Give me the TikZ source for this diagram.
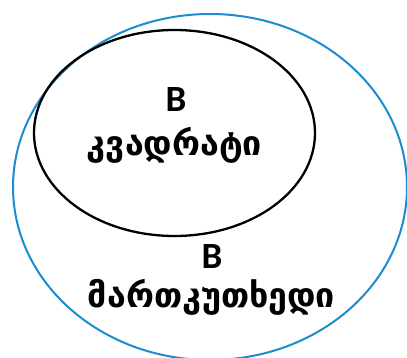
\documentclass[tikz,border=0pt]{standalone}
\usepackage{fontspec}
\setmainfont{Carlito}
\newfontfamily\geo{DejaVu Sans}
\usetikzlibrary{shapes.geometric}
\definecolor{outerblue}{RGB}{27,140,208}
\tikzset{
  setline/.style={shape=ellipse, draw, inner sep=0pt, line width=2.3pt},
  lbl/.style={font=\bfseries\fontsize{37}{37}\selectfont, inner sep=0pt},
  geolbl/.style={font=\geo\bfseries\fontsize{34}{34}\selectfont, inner sep=0pt}
}
\begin{document}
\begin{tikzpicture}[x=1pt,y=-1pt]
\useasboundingbox (0,0) rectangle (407,358);
\clip (0,0) rectangle (407,358);
\fill[white] (0,0) rectangle (407,358);
\node[setline, draw=outerblue, line width=2pt, minimum width=394pt, minimum height=346pt] (rect) at (210,187) {};
\node[setline, draw=black, minimum width=281pt, minimum height=206pt] (sq) at (174.5,133) {};
\node[lbl] (b1) at (176,100) {B};
\node[geolbl] (t1) at (174.5,145) {კვადრატი};
\node[lbl] (b2) at (212,257) {B};
\node[geolbl] (t2) at (211.5,297) {მართკუთხედი};
\end{tikzpicture}
\end{document}
